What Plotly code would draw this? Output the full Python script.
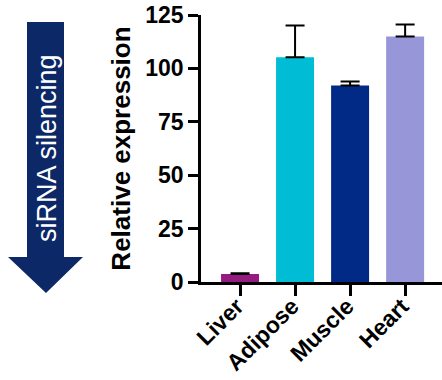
import plotly.graph_objects as go

categories = ["Liver", "Adipose", "Muscle", "Heart"]
values = [3.7, 105.2, 92.0, 114.9]
errors = [0.4, 14.9, 1.9, 5.6]
colors = ["#951B81", "#00BCD4", "#012A87", "#9696D8"]
y_ticks = [0, 25, 50, 75, 100, 125]

W, H = 442, 380
L, R, T, B = 201, 0, 15, 98
pw, ph = W - L - R, H - T - B

def px(x):
    return (x - L) / pw

def py(y):
    return (H - B - y) / ph

fig = go.Figure()
fig.add_trace(go.Bar(
    x=categories, y=values,
    marker=dict(color=colors, line=dict(width=0)),
    width=0.69,
    error_y=dict(type="data", array=errors, arrayminus=[0] * 4, symmetric=False,
                 color="black", thickness=2, width=9.5),
))

# arrow decoration on the left
arrow_path = (f"M {px(27)} {py(22)} L {px(64)} {py(22)} L {px(64)} {py(257)} "
              f"L {px(83)} {py(257)} L {px(46)} {py(293)} L {px(8)} {py(257)} "
              f"L {px(27)} {py(257)} Z")
fig.add_shape(type="path", path=arrow_path, xref="paper", yref="paper",
              fillcolor="#0C2867", line=dict(width=0), layer="above")
fig.add_annotation(text="siRNA silencing", xref="paper", yref="paper",
                   x=px(47), y=py(148), showarrow=False, textangle=-90,
                   font=dict(family="Liberation Sans", size=27, color="white"),
                   xanchor="center", yanchor="middle")

fig.update_layout(
    width=W, height=H,
    margin=dict(l=L, r=R, t=T, b=B, autoexpand=False),
    paper_bgcolor="white", plot_bgcolor="white",
    showlegend=False,
    font=dict(family="Liberation Sans", color="black"),
    xaxis=dict(
        range=[-0.709, 3.67], showline=True, linecolor="black", linewidth=2.5,
        ticks="outside", ticklen=11, tickwidth=2.5, tickcolor="black",
        tickangle=-45, tickfont=dict(size=23, weight="bold"),
        ticklabelstandoff=-12, ticklabelshift=-3,
        showgrid=False, zeroline=False,
    ),
    yaxis=dict(
        range=[0, 125], tickvals=y_ticks, showline=True, linecolor="black", linewidth=2.5,
        ticks="outside", ticklen=10, tickwidth=2.5, tickcolor="black",
        tickfont=dict(size=23, weight="bold"),
        title=dict(text="Relative expression", font=dict(size=26, weight="bold"), standoff=8),
        showgrid=False, zeroline=False,
    ),
)

fig.write_html("out.html", config={"displayModeBar": False},
               post_script="document.body.style.margin='0';document.body.style.overflow='hidden';")
